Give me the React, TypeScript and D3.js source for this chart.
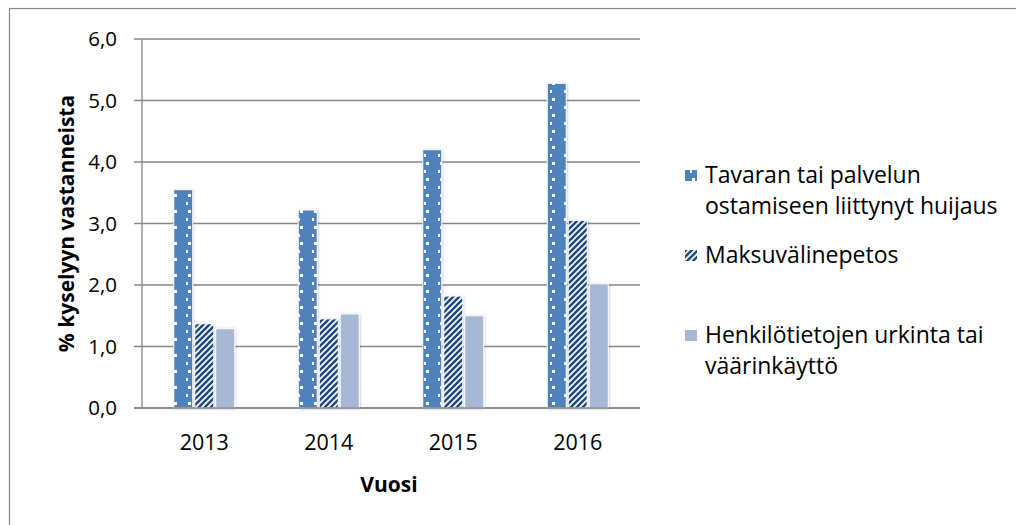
import React from "react";
import * as d3 from "d3";

// values (% of respondents)
const years = ["2013", "2014", "2015", "2016"];
const tavara = [3.55, 3.22, 4.2, 5.28];
const maksu = [1.37, 1.45, 1.82, 3.05];
const henkilo = [1.29, 1.53, 1.5, 2.02];
const yTicks = [0, 1, 2, 3, 4, 5, 6];

const series = [
  { key: "tavara", values: tavara, fill: "url(#dots)", label: ["Tavaran tai palvelun", "ostamiseen liittynyt huijaus"] },
  { key: "maksu", values: maksu, fill: "url(#stripes)", label: ["Maksuvälinepetos"] },
  { key: "henkilo", values: henkilo, fill: "#a7b8d7", label: ["Henkilötietojen urkinta tai", "väärinkäyttö"] },
];

const W = 1016;
const H = 525;
const font = "'Open Sans', sans-serif";

export default function App() {
  const left = 142;
  const right = 640;
  const top = 39;
  const bottom = 408;

  const x = d3.scaleBand().domain(years).range([left, right]);
  const y = d3.scaleLinear().domain([0, 6]).range([bottom, top]);
  const barW = 19;
  const gap = 2;

  const fmt = (v: number) => v.toFixed(1).replace(".", ",");

  // legend rows (first baseline of each item)
  const legendY = [183, 263, 343];

  return (
    <svg width={W} height={H} style={{ position: "absolute", left: 0, top: 0 }}>
      <defs>
        <pattern id="dots" width="14" height="16" patternUnits="userSpaceOnUse" x="6">
          <rect width="14" height="16" fill="#4f81bd" />
          <rect x="0" y="2" width="3" height="3" fill="#fff" />
          <rect x="12" y="10" width="2" height="3" fill="#fff" />
        </pattern>
        <pattern id="stripes" width="6" height="6" patternUnits="userSpaceOnUse">
          <rect width="6" height="6" fill="#fff" />
          <path d="M-1,1 l2,-2 M0,6 l6,-6 M5,7 l2,-2" stroke="#1f4a7e" strokeWidth="2.6" />
        </pattern>
        <filter id="shadow" x="-20%" y="-5%" width="140%" height="110%">
          <feDropShadow dx="0.5" dy="0.5" stdDeviation="1.2" floodColor="#000" floodOpacity="0.25" />
        </filter>
      </defs>

      <rect x={0} y={0} width={W} height={H} fill="#fff" />
      <rect x={9.5} y={8.5} width={W + 20} height={H + 20} fill="none" stroke="#868686" strokeWidth={1.2} />

      {/* gridlines and y ticks */}
      {yTicks.map((t) => (
        <g key={t}>
          <line x1={134} x2={right} y1={y(t)} y2={y(t)} stroke="#868686" strokeWidth={1.3} />
          <text x={117} y={y(t) + 7} textAnchor="end" fontFamily={font} fontSize={20.5} fill="#000">
            {fmt(t)}
          </text>
        </g>
      ))}
      <line x1={left} x2={left} y1={top} y2={bottom} stroke="#868686" strokeWidth={1.3} />

      {/* bars */}
      {years.map((yr, i) => {
        const cx = x(yr)! + x.bandwidth() / 2;
        const start = cx - (barW * 3 + gap * 2) / 2;
        return (
          <g key={yr}>
            {series.map((s, j) => (
              <rect
                key={s.key}
                x={start + j * (barW + gap)}
                y={y(s.values[i])}
                width={barW}
                height={bottom - y(s.values[i])}
                fill={s.fill}
                stroke="#fff"
                strokeWidth={1}
                filter="url(#shadow)"
              />
            ))}
            <text x={cx} y={450} textAnchor="middle" fontFamily={font} fontSize={21.5} fill="#000">
              {yr}
            </text>
          </g>
        );
      })}
      <line x1={134} x2={right} y1={bottom} y2={bottom} stroke="#868686" strokeWidth={1.3} />

      {/* axis titles */}
      <text x={389} y={492} textAnchor="middle" fontFamily={font} fontSize={21} fontWeight="bold">
        Vuosi
      </text>
      <text
        transform={`translate(74, ${(top + bottom) / 2}) rotate(-90)`}
        textAnchor="middle"
        fontFamily={font}
        fontSize={21}
        fontWeight="bold"
      >
        % kyselyyn vastanneista
      </text>

      {/* legend */}
      {series.map((s, j) => (
        <g key={s.key}>
          <rect x={685} y={legendY[j] - 13} width={12} height={11} fill={s.fill} />
          {s.label.map((line, k) => (
            <text key={k} x={705} y={legendY[j] + k * 31} fontFamily={font} fontSize={23} fill="#000">
              {line}
            </text>
          ))}
        </g>
      ))}
    </svg>
  );
}
